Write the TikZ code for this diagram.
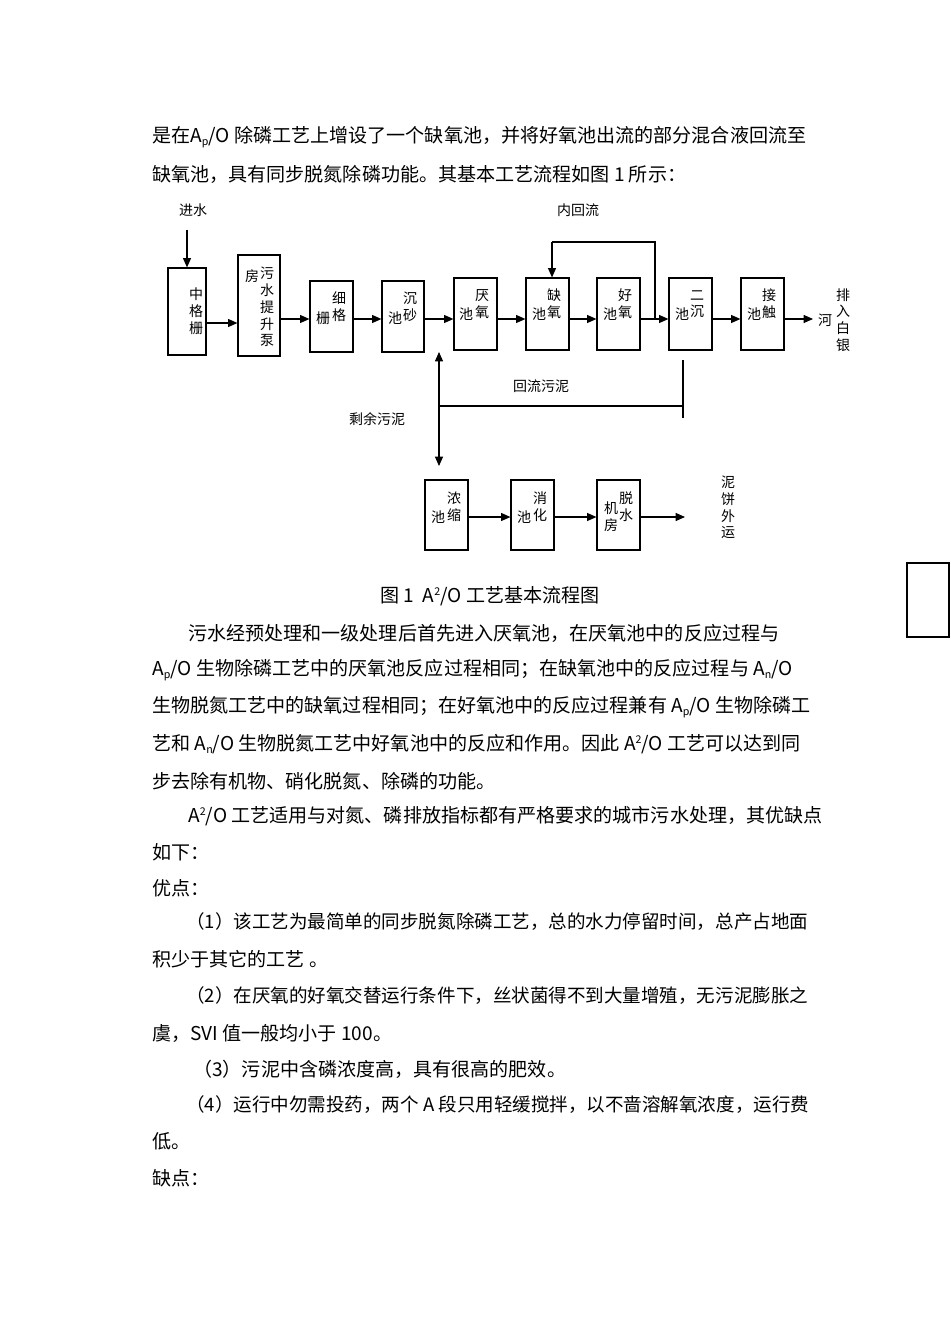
\documentclass[tikz,border=0pt]{standalone}
\usepackage{fontspec}
\setmainfont{Noto Sans CJK SC}
\usetikzlibrary{arrows.meta}
\newcommand{\Ap}{A\raisebox{-0.35ex}{\fontsize{8}{8}\selectfont p}/O}
\newcommand{\An}{A\raisebox{-0.35ex}{\fontsize{8}{8}\selectfont n}/O}
\newcommand{\Atwo}{A\raisebox{0.7ex}{\fontsize{8}{8}\selectfont 2}/O}
\begin{document}
\begin{tikzpicture}[x=0.75pt,y=-0.75pt,
  box/.style={draw,line width=0.9pt,inner sep=0pt},
  sz/.style 2 args={minimum width=#1*0.75pt,minimum height=#2*0.75pt},
  lbl/.style={font=\fontsize{10.5}{13}\selectfont,inner sep=0pt,align=center},
  body/.style={font=\fontsize{14.3}{17}\selectfont,anchor=west,inner sep=0pt},
  arr/.style={line width=0.8pt,-{Triangle[length=7pt,width=6pt]}},
  ln/.style={line width=0.8pt}]
\useasboundingbox (0,0) rectangle (950,1344);
\fill[white] (0,0) rectangle (950,1344);
% text
\node[body] (t1) at (152,137) {是在\Ap\ 除磷工艺上增设了一个缺氧池，并将好氧池出流的部分混合液回流至};
\node[body] (t2) at (152,174) {缺氧池，具有同步脱氮除磷功能。其基本工艺流程如图 1 所示：};
% diagram boxes
\node[box,sz={38}{87}] (b1) at (187,311.5) {};
\node[box,sz={42}{101}] (b2) at (259,305.5) {};
\node[box,sz={43}{71}] (b3) at (331.5,316.5) {};
\node[box,sz={42}{71}] (b4) at (403,316.5) {};
\node[box,sz={43}{72}] (b5) at (475.5,314) {};
\node[box,sz={43}{72}] (b6) at (547.5,314) {};
\node[box,sz={43}{72}] (b7) at (618.5,314) {};
\node[box,sz={43}{72}] (b8) at (690.5,314) {};
\node[box,sz={43}{72}] (b9) at (762.5,314) {};
\node[box,sz={43}{70}] (c1) at (446.5,515) {};
\node[box,sz={43}{70}] (c2) at (532.5,515) {};
\node[box,sz={43}{70}] (c3) at (618.5,515) {};
% box labels
\node[lbl] at (196,311) {\shortstack{中\\格\\栅}};
\node[lbl] at (267,307) {\shortstack{污\\水\\提\\升\\泵}};
\node[lbl] at (252,276) {房};
\node[lbl] at (339,307) {\shortstack{细\\格}};
\node[lbl] at (323,318) {栅};
\node[lbl] at (410,307) {\shortstack{沉\\砂}};
\node[lbl] at (395,318) {池};
\node[lbl] at (482,304) {\shortstack{厌\\氧}};
\node[lbl] at (466,314) {池};
\node[lbl] at (554,304) {\shortstack{缺\\氧}};
\node[lbl] at (539,314) {池};
\node[lbl] at (625,304) {\shortstack{好\\氧}};
\node[lbl] at (610,314) {池};
\node[lbl] at (697,304) {\shortstack{二\\沉}};
\node[lbl] at (682,314) {池};
\node[lbl] at (769,304) {\shortstack{接\\触}};
\node[lbl] at (754,314) {池};
\node[lbl] at (454,507) {\shortstack{浓\\缩}};
\node[lbl] at (438,517) {池};
\node[lbl] at (540,507) {\shortstack{消\\化}};
\node[lbl] at (524,517) {池};
\node[lbl] at (626,507) {\shortstack{脱\\水}};
\node[lbl] at (611,517) {\shortstack{机\\房}};
% outside labels
\node[lbl] (jin) at (193,210) {进水};
\node[lbl] (nei) at (578,210) {内回流};
\node[lbl] (pai) at (843,320) {\shortstack{排\\入\\白\\银}};
\node[lbl] (he) at (825,320) {河};
\node[lbl] (hui) at (541,386) {回流污泥};
\node[lbl] (sheng) at (377,419) {剩余污泥};
\node[lbl] (ni) at (728,507) {\shortstack{泥\\饼\\外\\运}};
% coordinates
\coordinate (in0) at (187,230);
\coordinate (out9) at (813,319);
\coordinate (outc) at (685,517);
\coordinate (r1) at (655,319);
\coordinate (r2) at (655,242);
\coordinate (r3) at (552,242);
\coordinate (s0) at (439,406);
\coordinate (s1) at (439,352);
\coordinate (s2) at (439,466);
\coordinate (s3) at (683,406);
\coordinate (s4) at (683,360);
\coordinate (s5) at (683,418);
% connectors
\draw[arr] (in0) -- (b1.north);
\draw[arr] (b1.east |- 0,323) -- (b2.west |- 0,323);
\draw[arr] (b2.east |- 0,319) -- (b3.west |- 0,319);
\draw[arr] (b3.east |- 0,319) -- (b4.west |- 0,319);
\draw[arr] (b4.east |- 0,319) -- (b5.west |- 0,319);
\draw[arr] (b5.east |- 0,319) -- (b6.west |- 0,319);
\draw[arr] (b6.east |- 0,319) -- (b7.west |- 0,319);
\draw[arr] (b7.east |- 0,319) -- (b8.west |- 0,319);
\draw[arr] (b8.east |- 0,319) -- (b9.west |- 0,319);
\draw[arr] (b9.east |- 0,319) -- (out9);
\draw[ln] (r1) -- (r2) -- (r3);
\draw[arr] (r3) -- (b6.north -| r3);
\draw[arr] (s0) -- (s1);
\draw[arr] (s0) -- (s2);
\draw[ln] (s0) -- (s3);
\draw[ln] (s4) -- (s5);
\draw[arr] (c1.east |- 0,517) -- (c2.west |- 0,517);
\draw[arr] (c2.east |- 0,517) -- (c3.west |- 0,517);
\draw[arr] (c3.east |- 0,517) -- (outc);
% caption and body
\node[body,anchor=center] (cap) at (490,596) {图 1\ \ \Atwo\ 工艺基本流程图};
\node[body] at (188,633) {污水经预处理和一级处理后首先进入厌氧池，在厌氧池中的反应过程与};
\node[body] at (152,670) {\Ap\ 生物除磷工艺中的厌氧池反应过程相同；在缺氧池中的反应过程与 \An};
\node[body] at (152,707) {生物脱氮工艺中的缺氧过程相同；在好氧池中的反应过程兼有 \Ap\ 生物除磷工};
\node[body] at (152,744) {艺和 \An\ 生物脱氮工艺中好氧池中的反应和作用。因此 \Atwo\ 工艺可以达到同};
\node[body] at (152,781) {步去除有机物、硝化脱氮、除磷的功能。};
\node[body] at (188,816) {\Atwo\ 工艺适用与对氮、磷排放指标都有严格要求的城市污水处理，其优缺点};
\node[body] at (152,852) {如下：};
\node[body] at (152,888) {优点：};
\node[body,font=\fontsize{13.9}{17}\selectfont] at (186,922) {（1）该工艺为最简单的同步脱氮除磷工艺，总的水力停留时间，总产占地面};
\node[body] at (152,959) {积少于其它的工艺 。};
\node[body,font=\fontsize{13.9}{17}\selectfont] at (186,996) {（2）在厌氧的好氧交替运行条件下，丝状菌得不到大量增殖，无污泥膨胀之};
\node[body] at (152,1033) {虞，SVI 值一般均小于 100。};
\node[body] at (193,1069) {（3）污泥中含磷浓度高，具有很高的肥效。};
\node[body,font=\fontsize{13.9}{17}\selectfont] at (186,1105) {（4）运行中勿需投药，两个 A 段只用轻缓搅拌，以不啬溶解氧浓度，运行费};
\node[body] at (152,1141) {低。};
\node[body] at (152,1178) {缺点：};
\draw[line width=1.2pt] (907,563) rectangle (949,637);
\end{tikzpicture}
\end{document}
